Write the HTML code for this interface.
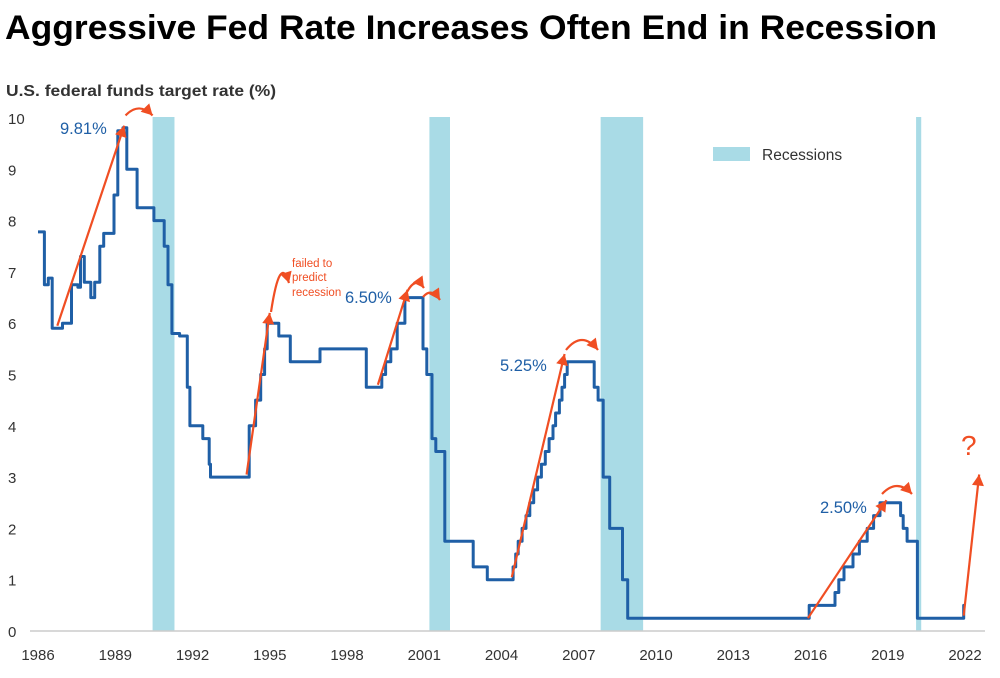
<!DOCTYPE html>
<html><head><meta charset="utf-8"><style>
body{margin:0;background:#fff;width:1000px;height:673px;overflow:hidden;font-family:"Liberation Sans",sans-serif}
</style></head><body>
<svg width="1000" height="673" viewBox="0 0 1000 673" xmlns="http://www.w3.org/2000/svg">
<text x="5" y="39" font-size="34" font-weight="bold" fill="#000" textLength="932" lengthAdjust="spacingAndGlyphs">Aggressive Fed Rate Increases Often End in Recession</text>
<text x="6" y="96" font-size="15.5" font-weight="bold" fill="#333" textLength="270" lengthAdjust="spacingAndGlyphs">U.S. federal funds target rate (%)</text>
<g id="rec"></g>
<g id="axes"></g>
<g id="line"></g>
<g id="ann"></g>
<rect x="713" y="147" width="37" height="14" fill="#a9dbe6"/>
<text x="762" y="160" font-size="15.5" fill="#333">Recessions</text>
</svg>
<script>
const years=[
1986,1986.25,1986.4,1986.55,1986.95,1987.3,1987.55,1987.65,1987.8,1988.05,
1988.2,1988.4,1988.55,1988.95,1989.1,1989.3,1989.45,1989.85,1990.5,1990.9,
1991.05,1991.2,1991.5,1991.8,1991.9,1992.4,1992.65,1992.7,1994.2,1994.45,
1994.65,1994.8,1994.9,1995.35,1995.8,1996.95,1998.75,1999.35,1999.5,1999.7,
1999.95,2000.25,2000.95,2001.1,2001.3,2001.45,2001.8,2002.9,2003.45,2004.45,
2004.55,2004.65,2004.8,2004.95,2005.1,2005.25,2005.4,2005.55,2005.7,2005.85,
2006.0,2006.1,2006.25,2006.35,2006.45,2006.55,2007.6,2007.75,2007.95,2008.2,
2008.7,2008.9,2015.95,2016.95,2017.1,2017.3,2017.65,2017.9,2018.2,2018.45,
2018.7,2019.5,2019.6,2019.75,2020.15,2021.95,2022.0];
const rates=[
7.78,6.75,6.88,5.9,6.0,6.75,6.7,7.3,6.8,6.5,
6.8,7.5,7.75,8.5,9.75,9.81,9.0,8.25,8.0,7.5,
6.75,5.8,5.75,4.75,4.0,3.75,3.25,3.0,4.0,4.5,
5.0,5.5,6.0,5.75,5.25,5.5,4.75,5.0,5.25,5.5,
6.0,6.5,5.5,5.0,3.75,3.5,1.75,1.25,1.0,1.25,
1.5,1.75,2.0,2.25,2.5,2.75,3.0,3.25,3.5,3.75,
4.0,4.25,4.5,4.75,5.0,5.25,4.75,4.5,3.0,2.0,
1.0,0.25,0.5,0.75,1.0,1.25,1.5,1.75,2.0,2.25,
2.5,2.25,2.0,1.75,0.25,0.5,0.5];
const recStart=[1990.45,2001.2,2007.85,2020.1];
const recEnd=[1991.3,2002.0,2009.5,2020.3];
const yTicks=[0,1,2,3,4,5,6,7,8,9,10];
const xTicks=[1986,1989,1992,1995,1998,2001,2004,2007,2010,2013,2016,2019,2022];
const NS="http://www.w3.org/2000/svg";
function X(y){return 38+(y-1986)*25.75;}
function Y(r){return 631-r*51.3;}
function mk(t,a,p){const e=document.createElementNS(NS,t);for(const k in a)e.setAttribute(k,a[k]);document.getElementById(p).appendChild(e);return e;}
recStart.forEach((s,i)=>{const e=mk('rect',{x:X(s),y:117,width:X(recEnd[i])-X(s),height:514,fill:'#a9dbe6'},'rec');

});
const ax=mk('line',{x1:30,x2:985,y1:631,y2:631,stroke:'#ccc','stroke-width':1.5},'axes');


yTicks.forEach(v=>{const t=mk('text',{x:8,y:Y(v)+6,'font-size':15,fill:'#333'},'axes');t.textContent=v;

});
xTicks.forEach(v=>{const t=mk('text',{x:X(v),y:660,'font-size':15,fill:'#333','text-anchor':'middle'},'axes');t.textContent=v;

});
let d='';years.forEach((y,i)=>{if(!i)d+='M'+X(y).toFixed(1)+' '+Y(rates[i]).toFixed(1);else d+='H'+X(y).toFixed(1)+'V'+Y(rates[i]).toFixed(1);});
const ln=mk('path',{d:d,fill:'none',stroke:'#1f5fa6','stroke-width':3,'stroke-linejoin':'round'},'line');


const RED='#f04e23';
function arrow(x1,y1,x2,y2,curve){
  let dd;
  if(curve){dd=`M${x1} ${y1} Q${(x1+x2)/2} ${Math.min(y1,y2)-curve} ${x2} ${y2}`;}
  else dd=`M${x1} ${y1} L${x2} ${y2}`;
  const p=mk('path',{d:dd,fill:'none',stroke:RED,'stroke-width':2.2},'ann');
  
  
  let ang;
  if(curve){const cx=(x1+x2)/2,cy=Math.min(y1,y2)-curve;ang=Math.atan2(y2-cy,x2-cx);}else ang=Math.atan2(y2-y1,x2-x1);
  const s=11,w=6;
  const bx=x2-s*Math.cos(ang),by=y2-s*Math.sin(ang);
  const h=mk('polygon',{points:`${x2},${y2} ${bx+w*Math.sin(ang)},${by-w*Math.cos(ang)} ${bx-w*Math.sin(ang)},${by+w*Math.cos(ang)}`,fill:RED},'ann');
  
  
}
arrow(X(1986.75),Y(5.95),X(1989.35),Y(9.85));
arrow(X(1989.4),Y(10.05),X(1990.45),Y(10.05),14);
arrow(X(1994.1),Y(3.05),X(1995),Y(6.2));
arrow(271,312,289,283,30);
arrow(X(1999.2),Y(4.8),X(2000.35),Y(6.65));
arrow(407,292,424,288,12);
arrow(423,297,440,300,10);
arrow(X(2004.4),Y(1.05),X(2006.45),Y(5.4));
arrow(566,350,598,350,20);
arrow(X(2015.9),Y(0.25),X(2018.95),Y(2.55));
arrow(882,494,912,494,16);
arrow(X(2021.95),Y(0.3),X(2022.55),Y(3.05));
function txt(x,y,s,fs,c,nm){const t=mk('text',{x:x,y:y,'font-size':fs,fill:c},'ann');t.textContent=s;

}
txt(60,134,'9.81%',16.5,'#1f5fa6','label-peak-1989');
txt(345,303,'6.50%',16.5,'#1f5fa6','label-peak-2000');
txt(500,371,'5.25%',16.5,'#1f5fa6','label-peak-2006');
txt(820,513,'2.50%',16.5,'#1f5fa6','label-peak-2018');
txt(292,267,'failed to',11.5,RED,'note-failed');
txt(292,281,'predict',11.5,RED,'note-predict');
txt(292,296,'recession',11.5,RED,'note-recession');
txt(961,455,'?',28,RED,'question-mark');
</script>
</body></html>
